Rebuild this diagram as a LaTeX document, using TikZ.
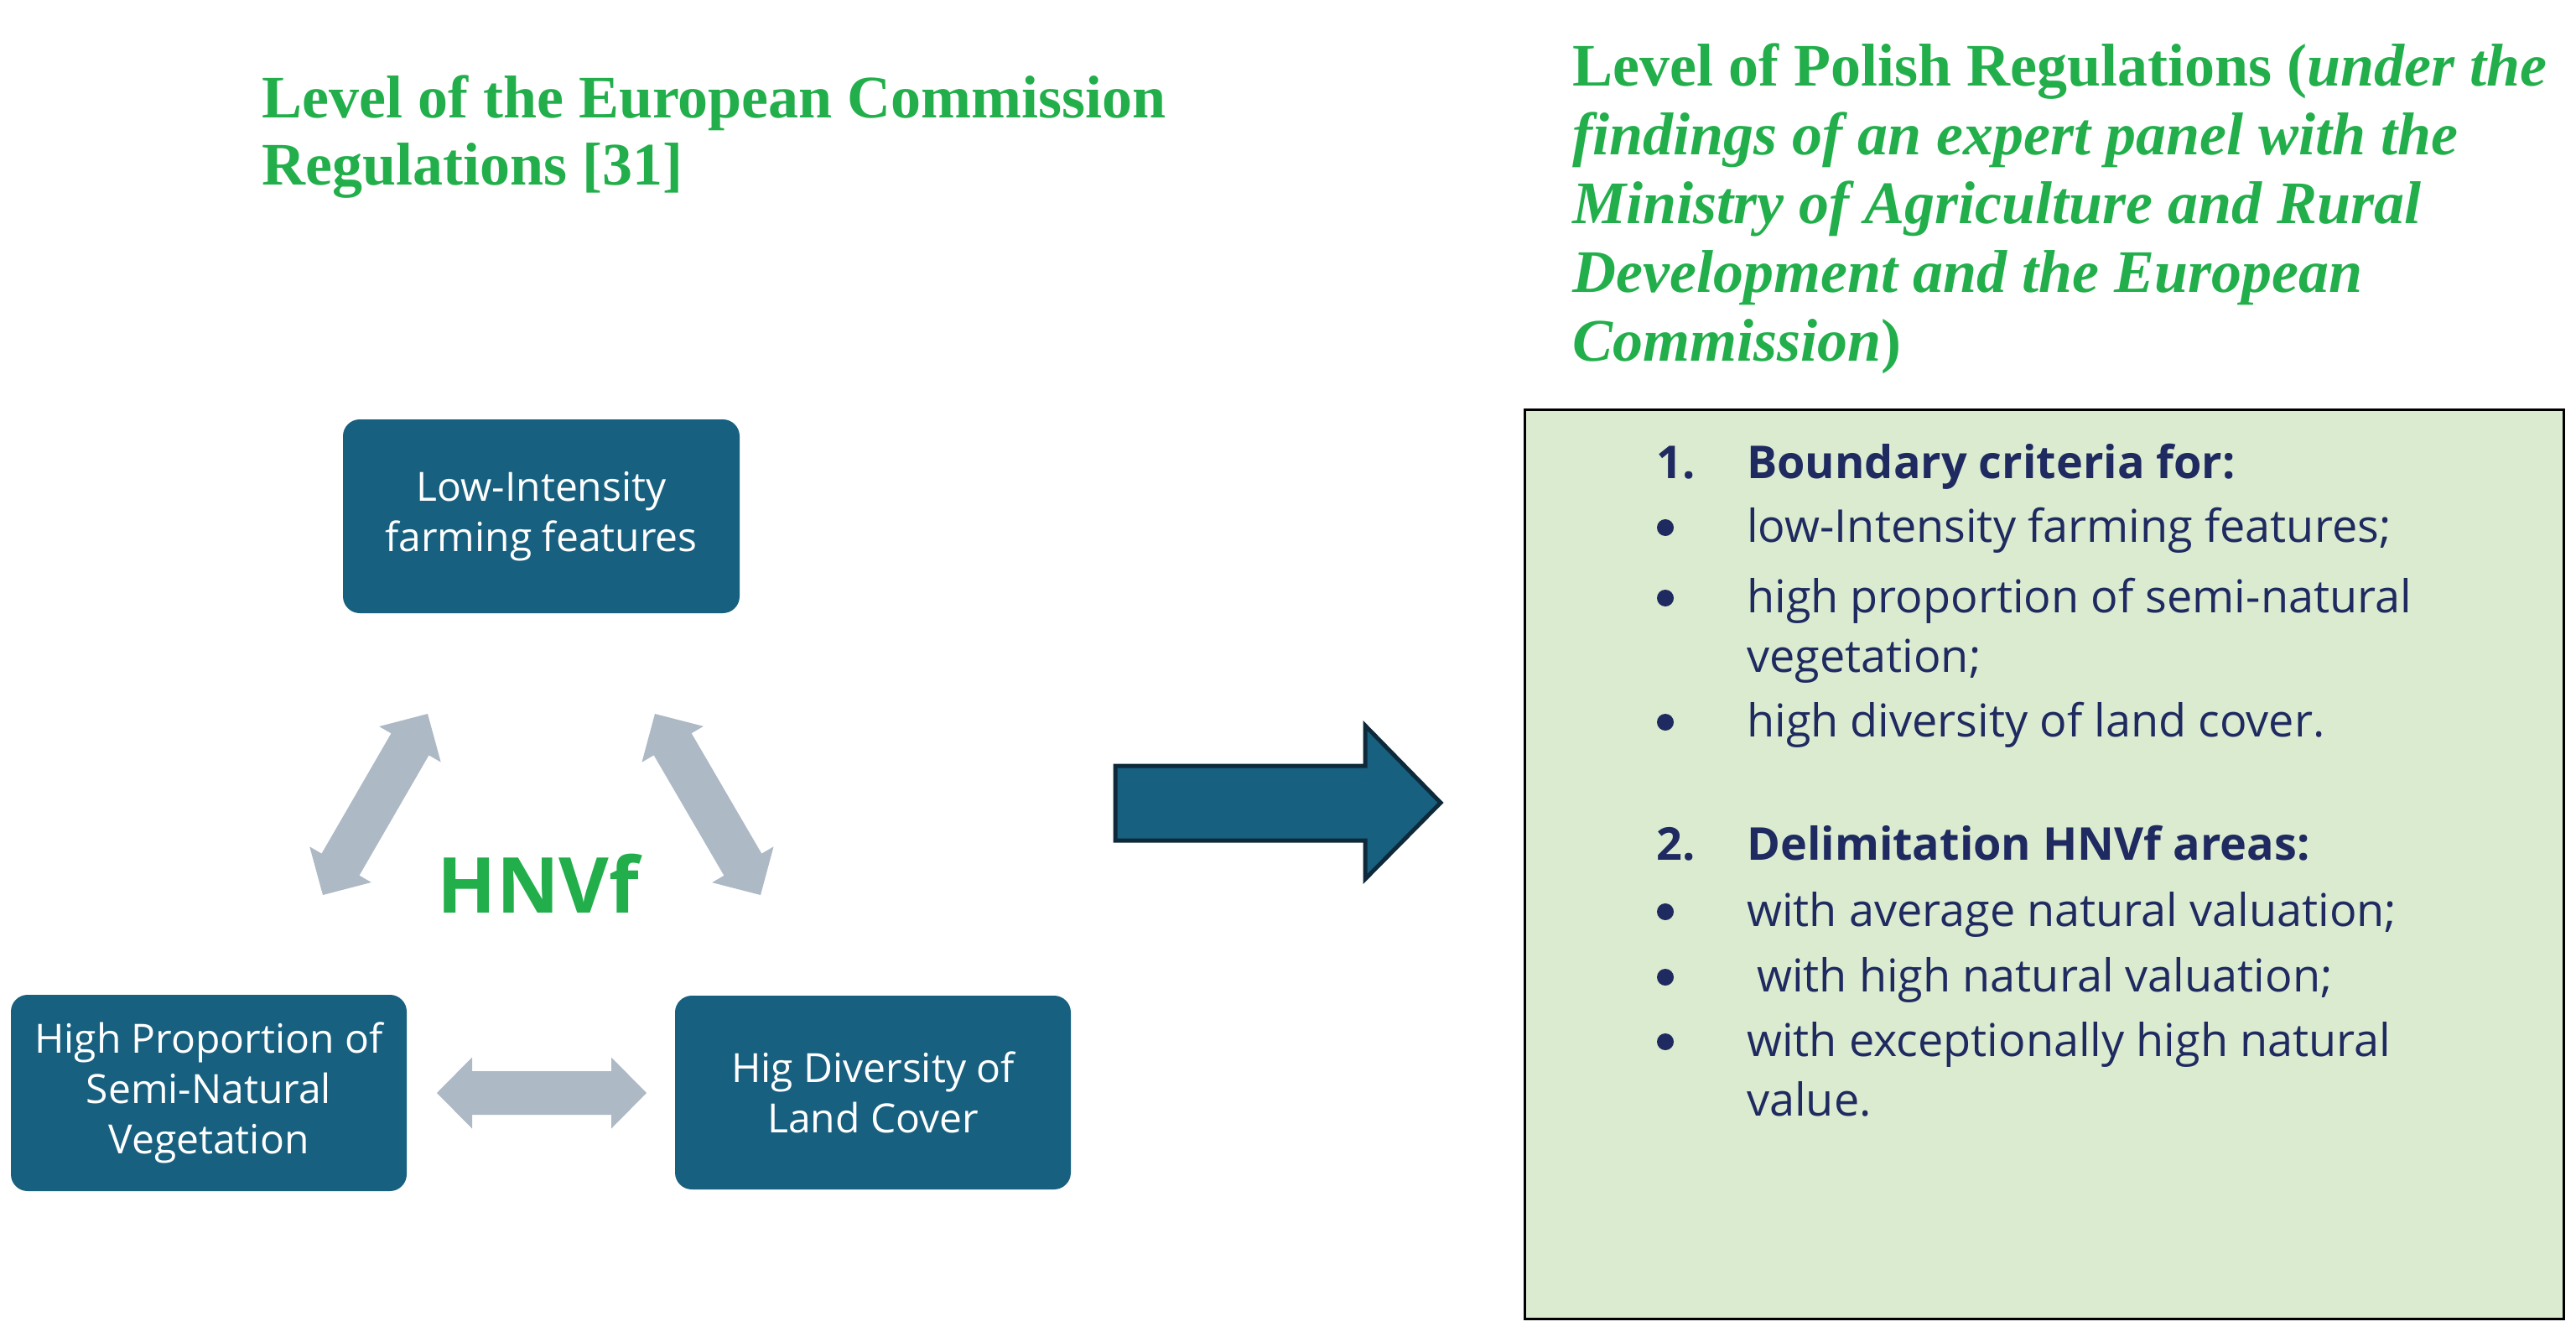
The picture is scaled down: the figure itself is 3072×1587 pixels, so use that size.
\documentclass[tikz,border=0pt]{standalone}
\usepackage{fontspec}
\setmainfont{Liberation Serif}
\newfontfamily\osans{Open Sans}
\usetikzlibrary{calc}
\definecolor{boxblue}{HTML}{18607F}
\definecolor{arrowgray}{HTML}{ADB9C5}
\definecolor{hgreen}{HTML}{22AF4B}
\definecolor{panelgreen}{HTML}{DBEBD0}
\definecolor{navytext}{HTML}{1F2A60}
\definecolor{darkline}{HTML}{0E2A3A}
\tikzset{
  heading/.style={text=hgreen, font=\fontsize{72}{80}\selectfont\bfseries, align=left, inner sep=0pt},
  bluebox/.style={fill=boxblue, rounded corners=20pt, text=white, align=center,
    font=\osans\fontsize{48}{60}\selectfont, inner sep=0pt},
  paneltext/.style={text=navytext, font=\osans\fontsize{54}{60}\selectfont, anchor=base west, inner sep=0pt},
  panelbold/.style={paneltext, font=\osans\bfseries\fontsize{54}{60}\selectfont},
  bulletdot/.style={circle, fill=navytext, minimum size=20pt, inner sep=0pt},
}
\newcommand\dblarrow[2]{%
  \fill[arrowgray] let \p1=(#1), \p2=(#2), \n1={atan2(\y2-\y1,\x2-\x1)}, \n2={veclen(\x2-\x1,\y2-\y1)} in
    [shift={(\p1)}, rotate=\n1] (0,0) -- (42,42.5) -- (42,26) -- (\n2-42,26) -- (\n2-42,42.5) -- (\n2,0)
    -- (\n2-42,-42.5) -- (\n2-42,-26) -- (42,-26) -- (42,-42.5) -- cycle;}
\begin{document}
\begin{tikzpicture}[x=1pt,y=-1pt]
\useasboundingbox (0,0) rectangle (3072,1587);
% headings (base anchor = baseline of the last line)
\node[heading, anchor=base west] (hleft) at (312,220)
  {Level of the European Commission\\Regulations [31]};
\node[heading, anchor=base west, font=\fontsize{72}{82}\selectfont\bfseries] (hright) at (1875,430)
  {Level of Polish Regulations (\textit{under the}\\
   \textit{findings of an expert panel with the}\\
   \textit{Ministry of Agriculture and Rural}\\
   \textit{Development and the European}\\
   \textit{Commission})};
% blue boxes
\node[bluebox, minimum width=473pt, minimum height=231pt] (top) at (645.5,615.5)
  {Low-Intensity\\farming features};
\node[bluebox, minimum width=472pt, minimum height=234pt] (bl) at (249,1303)
  {High Proportion of\\Semi-Natural\\Vegetation};
\node[bluebox, minimum width=472pt, minimum height=231pt] (br) at (1041,1302.5)
  {Hig Diversity of\\Land Cover};
% HNVf
\node[text=hgreen, font=\osans\bfseries\fontsize{92}{100}\selectfont, anchor=base, inner sep=0pt] (hnvf) at (642,1088) {HNVf};
% double arrows
\coordinate (a1s) at (385,1067); \coordinate (a1e) at (510,851);
\coordinate (a2s) at (907,1067); \coordinate (a2e) at (781,851);
\coordinate (a3s) at (521,1303); \coordinate (a3e) at (771,1303);
\dblarrow{a1s}{a1e}
\dblarrow{a2s}{a2e}
\dblarrow{a3s}{a3e}
% big arrow
\draw[fill=boxblue, draw=darkline, line width=5pt, line join=miter]
  (1330,913) -- (1628,913) -- (1628,865) -- (1718,957) -- (1628,1048) -- (1628,1002) -- (1330,1002) -- cycle;
% green panel
\draw[fill=panelgreen, draw=black, line width=3pt] (1818,488) rectangle (3057,1572);
\node[panelbold] (n1) at (1975,570) {1.};
\node[panelbold] (t1) at (2083,570) {Boundary criteria for:};
\node[bulletdot] (b1) at (1986,629) {};
\node[paneltext] (t2) at (2083,646) {low-Intensity farming features;};
\node[bulletdot] (b2) at (1986,713) {};
\node[paneltext] (t3) at (2083,730) {high proportion of semi-natural};
\node[paneltext] (t4) at (2083,801) {vegetation;};
\node[bulletdot] (b3) at (1986,861) {};
\node[paneltext] (t5) at (2083,878) {high diversity of land cover.};
\node[panelbold] (n2) at (1975,1025) {2.};
\node[panelbold] (t6) at (2083,1025) {Delimitation HNVf areas:};
\node[bulletdot] (b4) at (1986,1087) {};
\node[paneltext] (t7) at (2083,1104) {with average natural valuation;};
\node[bulletdot] (b5) at (1986,1165) {};
\node[paneltext] (t8) at (2095,1182) {with high natural valuation;};
\node[bulletdot] (b6) at (1986,1242) {};
\node[paneltext] (t9) at (2083,1259) {with exceptionally high natural};
\node[paneltext] (t10) at (2083,1330) {value.};
\end{tikzpicture}
\end{document}
